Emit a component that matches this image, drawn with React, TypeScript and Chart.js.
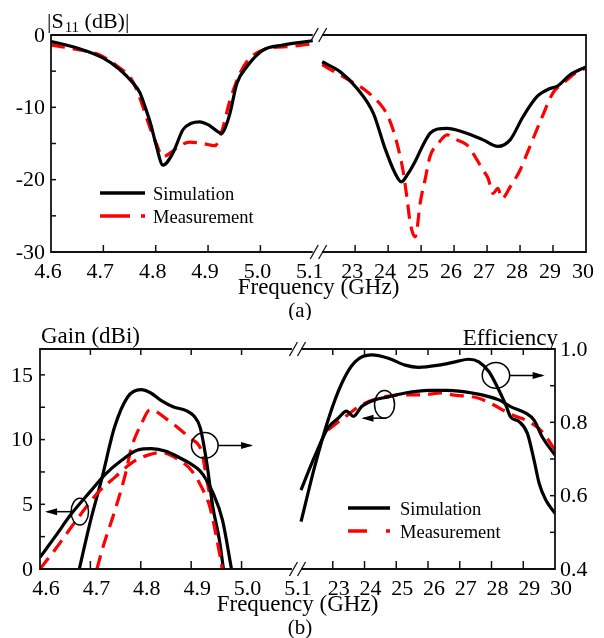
import React, { useEffect, useRef } from "react";
import { Chart, registerables } from "chart.js";
Chart.register(...registerables);

const SERIF = '"Liberation Serif", "Times New Roman", Times, serif';

// ---------- broken x-axis: 4.6–5.1 GHz | 22–30 GHz ----------
const GAP_U = 5.18;
const HIGH_SCALE = 0.63;
const toU = (f: number) => (f < 10 ? (f - 4.6) * 10 : GAP_U + (f - 22) * HIGH_SCALE);
const U_MAX = toU(30);

const xLabelsLow = [4.6, 4.7, 4.8, 4.9, 5.0, 5.1];
const xLabelsHigh = [23, 24, 25, 26, 27, 28, 29, 30];
const xTicksLow = [4.7, 4.8, 4.9, 5.0];
const xTicksHigh = [23, 24, 25, 26, 27, 28, 29];

// ---------- Panel (a): |S11| (dB) ----------
const aYMajor = [0, -10, -20, -30];
const aYMinor = [-5, -15, -25];

const aLowSimFreq = [4.6, 4.65, 4.7, 4.73, 4.755, 4.77, 4.78, 4.79, 4.8, 4.814, 4.833, 4.852, 4.868, 4.884, 4.9, 4.91, 4.926, 4.934, 4.942, 4.955, 4.974, 5.005, 5.043, 5.1];
const aLowSimDb = [-0.9, -1.8, -3.2, -4.7, -6.5, -8.0, -10.0, -12.2, -15.0, -18.0, -16.3, -13.1, -12.2, -12.0, -12.4, -12.9, -13.6, -12.6, -10.8, -6.7, -4.4, -2.1, -1.4, -0.8];

const aLowMeasFreq = [4.6, 4.65, 4.694, 4.73, 4.751, 4.765, 4.776, 4.79, 4.8, 4.814, 4.83, 4.842, 4.865, 4.89, 4.913, 4.926, 4.942, 4.961, 4.98, 5.018, 5.056, 5.1];
const aLowMeasDb = [-1.4, -2.0, -2.8, -4.5, -5.8, -7.8, -10.0, -13.0, -14.8, -16.8, -16.2, -15.5, -14.8, -15.0, -15.3, -13.4, -9.0, -5.3, -3.2, -1.8, -1.6, -1.2];

const aHighSimFreq = [22.0, 22.55, 23.06, 23.55, 23.9, 24.2, 24.4, 24.6, 24.85, 25.06, 25.27, 25.5, 25.79, 26.27, 26.88, 27.33, 27.7, 28.09, 28.52, 28.91, 29.12, 29.52, 30.0];
const aHighSimDb = [-3.7, -5.1, -7.4, -10.8, -15.6, -19.0, -20.3, -19.2, -17.2, -15.2, -13.6, -13.0, -12.9, -13.4, -14.5, -15.4, -14.5, -11.3, -8.5, -7.4, -7.1, -5.5, -4.4];

const aHighMeasFreq = [22.0, 22.45, 23.06, 23.3, 23.82, 23.97, 24.15, 24.27, 24.45, 24.58, 24.67, 24.82, 24.88, 24.97, 25.12, 25.27, 25.52, 25.79, 25.97, 26.39, 26.58, 26.88, 27.03, 27.18, 27.33, 27.45, 27.7, 28.0, 28.21, 28.3, 28.7, 29.0, 29.3, 29.73, 30.0];
const aHighMeasDb = [-4.1, -5.3, -6.9, -7.6, -9.9, -11.0, -13.1, -15.0, -18.7, -22.8, -26.0, -27.9, -26.7, -23.3, -20.0, -16.8, -15.0, -13.8, -14.3, -15.2, -16.4, -18.7, -19.8, -21.9, -21.2, -22.6, -21.0, -18.7, -16.4, -15.4, -11.0, -8.0, -6.7, -5.1, -4.6];

// ---------- Panel (b): Gain (dBi) and Efficiency ----------
const bGainMajor = [0, 5, 10, 15];
const bGainMinor = [2.5, 7.5, 12.5];
const bEffMajor = [0.4, 0.6, 0.8, 1.0];
const bEffMinor = [0.5, 0.7, 0.9];

const bLowGainSimFreq = [4.6, 4.63, 4.663, 4.7, 4.729, 4.762, 4.794, 4.821, 4.85, 4.877, 4.9, 4.917, 4.93, 4.943, 4.962, 4.98];
const bLowGainSim = [0.9, 2.5, 4.3, 6.0, 7.3, 8.4, 9.2, 9.3, 9.1, 8.6, 8.1, 7.6, 6.9, 5.9, 3.8, 0];

const bLowGainMeasFreq = [4.6, 4.63, 4.669, 4.715, 4.749, 4.782, 4.814, 4.841, 4.877, 4.901, 4.921, 4.937, 4.95, 4.962];
const bLowGainMeas = [0, 1.5, 3.6, 5.9, 7.1, 8.2, 8.8, 9.0, 8.4, 7.6, 6.3, 4.8, 2.5, 0];

const bLowEffSimFreq = [4.678, 4.7, 4.722, 4.748, 4.774, 4.8, 4.82, 4.84, 4.865, 4.89, 4.905, 4.918, 4.931, 4.943, 4.956, 4.964];
const bLowEffSim = [0.4, 0.53, 0.643, 0.787, 0.869, 0.889, 0.88, 0.86, 0.842, 0.832, 0.818, 0.785, 0.689, 0.569, 0.479, 0.4];

const bLowEffMeasFreq = [4.713, 4.725, 4.749, 4.768, 4.782, 4.802, 4.818, 4.83, 4.85, 4.867, 4.897, 4.921, 4.931, 4.943, 4.956, 4.962];
const bLowEffMeas = [0.4, 0.46, 0.561, 0.651, 0.733, 0.798, 0.834, 0.83, 0.81, 0.793, 0.757, 0.719, 0.643, 0.561, 0.46, 0.4];

const bHighGainSimFreq = [22.0, 22.43, 22.85, 23.17, 23.43, 23.65, 23.91, 24.33, 24.75, 25.28, 26.02, 26.6, 27.39, 28.23, 28.6, 29.08, 29.34, 29.6, 30.0];
const bHighGainSim = [6.1, 8.7, 10.9, 11.65, 12.2, 11.8, 12.55, 13.07, 13.3, 13.6, 13.8, 13.8, 13.6, 13.07, 12.55, 12.04, 11.5, 10.2, 8.8];

const bHighGainMeasFreq = [22.85, 23.33, 23.91, 24.44, 25.17, 25.81, 26.44, 26.76, 27.6, 27.97, 28.66, 29.08, 29.6, 30.0];
const bHighGainMeas = [10.75, 11.65, 12.68, 13.2, 13.46, 13.46, 13.6, 13.46, 13.2, 12.8, 11.9, 11.5, 10.6, 9.2];

const bHighEffSimFreq = [22.0, 22.43, 22.85, 23.28, 23.7, 24.22, 24.75, 25.28, 25.7, 26.34, 26.86, 27.28, 27.6, 27.92, 28.18, 28.45, 28.6, 28.87, 29.13, 29.34, 29.5, 29.71, 30.0];
const bHighEffSim = [0.529, 0.679, 0.806, 0.906, 0.965, 0.984, 0.975, 0.956, 0.95, 0.956, 0.965, 0.972, 0.965, 0.938, 0.897, 0.847, 0.815, 0.802, 0.77, 0.697, 0.634, 0.588, 0.552];

// ellipse annotations in data units
const bMarkers = [
  { f: 4.679, v: 4.43, axis: "y", rx: 8.7, ry: 13.3, dir: "left" },
  { f: 4.927, v: 9.55, axis: "y", rx: 13.3, ry: 12.8, dir: "right" },
  { f: 24.63, v: 12.72, axis: "y", rx: 10, ry: 13.8, dir: "leftBelow" },
  { f: 28.14, v: 0.928, axis: "y1", rx: 13.7, ry: 12.8, dir: "right" },
];

const RED = "#ff0000";
const BLACK = "#000000";
const DASH = [14, 8];

function ds(label: string, freqs: number[], vals: number[], color: string, dashed: boolean, yAxisID = "y") {
  return {
    label,
    data: freqs.map((f, i) => ({ x: toU(f), y: vals[i] })),
    borderColor: color,
    backgroundColor: color,
    borderWidth: 3.2,
    borderDash: dashed ? DASH : [],
    borderJoinStyle: "round" as const,
    pointRadius: 0,
    pointHoverRadius: 0,
    cubicInterpolationMode: "monotone" as const,
    fill: false,
    yAxisID,
  };
}

function line(ctx: CanvasRenderingContext2D, x0: number, y0: number, x1: number, y1: number) {
  ctx.beginPath();
  ctx.moveTo(x0, y0);
  ctx.lineTo(x1, y1);
  ctx.stroke();
}

function drawFrame(chart: any, o: any) {
  const ctx: CanvasRenderingContext2D = chart.ctx;
  const { left, right, top, bottom } = chart.chartArea;
  const xs = chart.scales.x;
  const bL = xs.getPixelForValue(toU(5.1));
  const bR = xs.getPixelForValue(GAP_U);
  ctx.save();
  ctx.strokeStyle = "#111";
  ctx.lineWidth = 1.8;
  line(ctx, left, top - 0.9, left, bottom + 0.9);
  line(ctx, right, top - 0.9, right, bottom + 0.9);
  line(ctx, left, bottom, bL, bottom);
  line(ctx, bR, bottom, right, bottom);
  line(ctx, left, top, bL, top);
  line(ctx, bR, top, right, top);
  // break marks
  ctx.lineWidth = 1.3;
  for (const y of [top, bottom]) for (const cx of [bL + 1.5, bR + 0.5]) line(ctx, cx - 4, y + 7, cx + 4, y - 7);
  // x ticks
  ctx.lineWidth = 1.5;
  for (const f of [...xTicksLow, ...xTicksHigh]) {
    const p = xs.getPixelForValue(toU(f));
    line(ctx, p, bottom, p, bottom - o.xTickLen);
    if (o.topTickLen) line(ctx, p, top, p, top + o.topTickLen);
  }
  // y ticks (left)
  const ys = chart.scales.y;
  for (const v of [...o.yMajor, ...o.yMinor]) {
    const p = ys.getPixelForValue(v);
    line(ctx, left, p, left + 5, p);
  }
  if (o.y1Major) {
    const y1 = chart.scales.y1;
    for (const v of [...o.y1Major, ...o.y1Minor]) {
      const p = y1.getPixelForValue(v);
      line(ctx, right, p, right - 5, p);
    }
  }
  // tick labels
  ctx.fillStyle = "#000";
  ctx.font = `22px ${SERIF}`;
  ctx.textAlign = "center";
  ctx.textBaseline = "alphabetic";
  for (const f of xLabelsLow) ctx.fillText(f.toFixed(1), xs.getPixelForValue(toU(f)) + o.xLabelShift, bottom + 26);
  for (const f of xLabelsHigh) ctx.fillText(String(f), xs.getPixelForValue(toU(f)) + o.xLabelShift, bottom + 26);
  ctx.textAlign = "right";
  ctx.textBaseline = "middle";
  for (const v of o.yMajor) ctx.fillText(String(v), left - o.yLabelGap, ys.getPixelForValue(v) + 1);
  if (o.y1Major) {
    ctx.textAlign = "left";
    const y1 = chart.scales.y1;
    for (const v of o.y1Major) ctx.fillText(v.toFixed(1), right + 5, y1.getPixelForValue(v) + 1);
  }
  // axis title + panel caption
  ctx.textAlign = "center";
  ctx.textBaseline = "alphabetic";
  ctx.font = `23px ${SERIF}`;
  ctx.fillText("Frequency (GHz)", (left + right) / 2, bottom + 42);
  ctx.font = `21px ${SERIF}`;
  ctx.fillText(o.caption, 300, bottom + 65);
  // legend
  ctx.font = `18.5px ${SERIF}`;
  ctx.textAlign = "left";
  const L = o.legend;
  ctx.strokeStyle = BLACK;
  ctx.lineWidth = 3.5;
  line(ctx, L.x0, L.y0, L.x1, L.y0);
  ctx.fillText("Simulation", L.tx, L.y0 + 6.5);
  ctx.strokeStyle = RED;
  line(ctx, L.x0, L.y1, L.x0 + L.dash, L.y1);
  line(ctx, L.x1 - 4, L.y1, L.x1, L.y1);
  ctx.fillText("Measurement", L.tx, L.y1 + 6.5);
  ctx.restore();
}

function arrow(ctx: CanvasRenderingContext2D, x0: number, y: number, x1: number) {
  line(ctx, x0, y, x1, y);
  const d = x1 > x0 ? 1 : -1;
  ctx.beginPath();
  ctx.moveTo(x1 + d * 2, y);
  ctx.lineTo(x1 - d * 10, y - 3.5);
  ctx.lineTo(x1 - d * 10, y + 3.5);
  ctx.closePath();
  ctx.fill();
}

const framePluginA = {
  id: "frameA",
  afterDraw(chart: any) {
    drawFrame(chart, {
      xTickLen: 7, topTickLen: 0, yMajor: aYMajor, yMinor: aYMinor, yLabelGap: 6,
      xLabelShift: -3, caption: "(a)",
      legend: { x0: 100, x1: 145, y0: 193, y1: 216, dash: 30, tx: 153 },
    });
    const ctx: CanvasRenderingContext2D = chart.ctx;
    const { left } = chart.chartArea;
    ctx.save();
    ctx.fillStyle = "#000";
    ctx.textBaseline = "alphabetic";
    ctx.textAlign = "left";
    ctx.font = `22px ${SERIF}`;
    let x = left - 4;
    ctx.fillText("|S", x, 28);
    x += ctx.measureText("|S").width;
    ctx.font = `15px ${SERIF}`;
    ctx.fillText("11", x + 1, 32);
    x += ctx.measureText("11").width + 1;
    ctx.font = `22px ${SERIF}`;
    ctx.fillText(" (dB)|", x, 28);
    ctx.restore();
  },
};

const framePluginB = {
  id: "frameB",
  afterDraw(chart: any) {
    drawFrame(chart, {
      xTickLen: 8, topTickLen: 6, yMajor: bGainMajor, yMinor: bGainMinor, y1Major: bEffMajor, y1Minor: bEffMinor,
      yLabelGap: 7, xLabelShift: 6, caption: "(b)",
      legend: { x0: 348, x1: 390, y0: 188, y1: 211, dash: 19, tx: 400 },
    });
    const ctx: CanvasRenderingContext2D = chart.ctx;
    const { left, right } = chart.chartArea;
    ctx.save();
    ctx.fillStyle = "#000";
    ctx.strokeStyle = "#000";
    ctx.textBaseline = "alphabetic";
    ctx.font = `23px ${SERIF}`;
    ctx.textAlign = "left";
    ctx.fillText("Gain (dBi)", left + 1, 23);
    ctx.textAlign = "right";
    ctx.fillText("Efficiency", right + 3, 25);
    // ellipses with arrows
    ctx.lineWidth = 1.5;
    const xs = chart.scales.x;
    for (const m of bMarkers) {
      const cx = xs.getPixelForValue(toU(m.f));
      const cy = chart.scales[m.axis].getPixelForValue(m.v);
      ctx.beginPath();
      ctx.ellipse(cx, cy, m.rx, m.ry, 0, 0, Math.PI * 2);
      ctx.stroke();
      if (m.dir === "left") arrow(ctx, cx - m.rx, cy, cx - m.rx - 24);
      else if (m.dir === "right") arrow(ctx, cx + m.rx, cy, cx + m.rx + 33);
      else arrow(ctx, cx + 2, cy + m.ry, cx - 21);
    }
    ctx.restore();
  },
};

function useChart(ref: React.RefObject<HTMLCanvasElement>, cfgFactory: () => any) {
  useEffect(() => {
    if (!ref.current) return;
    const chart = new Chart(ref.current, cfgFactory());
    return () => chart.destroy();
  }, []);
}

const baseOptions = (padding: any, scales: any) => ({
  responsive: false,
  animation: false as const,
  events: [],
  layout: { padding },
  plugins: { legend: { display: false }, tooltip: { enabled: false } },
  scales,
});

export default function App() {
  const refA = useRef<HTMLCanvasElement>(null);
  const refB = useRef<HTMLCanvasElement>(null);

  useChart(refA, () => ({
    type: "line",
    data: {
      datasets: [
        ds("Simulation", aLowSimFreq, aLowSimDb, BLACK, false),
        ds("Measurement", aLowMeasFreq, aLowMeasDb, RED, true),
        ds("Simulation", aHighSimFreq, aHighSimDb, BLACK, false),
        ds("Measurement", aHighMeasFreq, aHighMeasDb, RED, true),
      ],
    },
    options: baseOptions(
      { left: 51, right: 18, top: 35, bottom: 68 },
      {
        x: { type: "linear", min: 0, max: U_MAX, display: false },
        y: { type: "linear", min: -30, max: 0, display: false },
      }
    ),
    plugins: [framePluginA],
  }));

  useChart(refB, () => ({
    type: "line",
    data: {
      datasets: [
        ds("Gain sim", bLowGainSimFreq, bLowGainSim, BLACK, false, "y"),
        ds("Gain meas", bLowGainMeasFreq, bLowGainMeas, RED, true, "y"),
        ds("Eff sim", bLowEffSimFreq, bLowEffSim, BLACK, false, "y1"),
        ds("Eff meas", bLowEffMeasFreq, bLowEffMeas, RED, true, "y1"),
        ds("Gain sim", bHighGainSimFreq, bHighGainSim, BLACK, false, "y"),
        ds("Gain meas", bHighGainMeasFreq, bHighGainMeas, RED, true, "y"),
        ds("Eff sim", bHighEffSimFreq, bHighEffSim, BLACK, false, "y1"),
      ],
    },
    options: baseOptions(
      { left: 40, right: 49, top: 29, bottom: 69 },
      {
        x: { type: "linear", min: 0, max: U_MAX, display: false },
        y: { type: "linear", min: 0, max: 17, display: false, position: "left" },
        y1: { type: "linear", min: 0.4, max: 1.0, display: false, position: "right" },
      }
    ),
    plugins: [framePluginB],
  }));

  return (
    <div style={{ position: "absolute", left: 0, top: 0, width: 604, height: 638, background: "#fff" }}>
      <canvas ref={refA} width={604} height={320} style={{ position: "absolute", left: 0, top: 0 }} />
      <canvas ref={refB} width={604} height={318} style={{ position: "absolute", left: 0, top: 320 }} />
    </div>
  );
}
